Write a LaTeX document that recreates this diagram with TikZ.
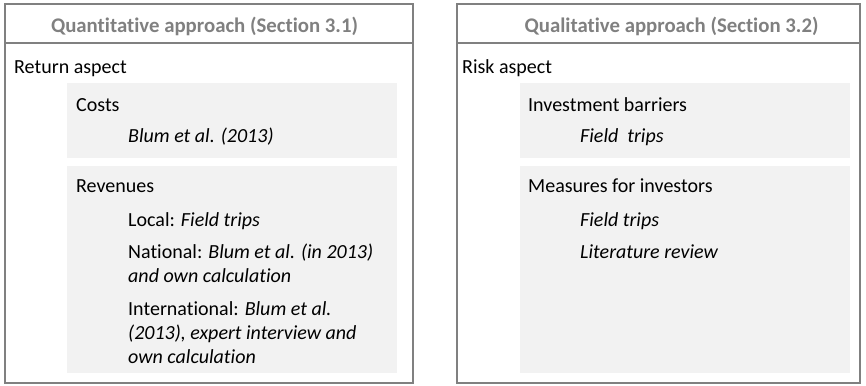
\documentclass[tikz,border=0pt]{standalone}
\usepackage{fontspec}
\setmainfont{Carlito}[Ligatures=NoCommon]
\definecolor{frame}{HTML}{808080}
\definecolor{panel}{HTML}{F2F2F2}
\tikzset{
  x=1pt,y=-1pt,
  outer/.style={draw=frame,line width=1.6pt},
  panelbox/.style={fill=panel,draw=none},
  head/.style={font=\fontsize{20.8}{24}\selectfont\bfseries,text=frame,inner sep=0pt,anchor=base},
  txt/.style={font=\fontsize{20}{24}\selectfont,inner sep=0pt,anchor=base west,align=left},
}
\begin{document}
\begin{tikzpicture}
\useasboundingbox (0,0) rectangle (866,385);
% left frame
\draw[outer] (5,4) rectangle (413,383);
\draw[outer] (5,43) -- (413,43);
\fill[panelbox] (67,83) rectangle (397,158);
\fill[panelbox] (67,166) rectangle (397,373);
\node[head] (h1) at (204.5,32.3) {Quantitative approach (Section 3.1)};
\node[txt] (ret) at (14,74) {Return aspect};
\node[txt] (costs) at (76,111.7) {Costs};
\node[txt] (blum) at (128,142.5) {\itshape Blum et al. (2013)};
\node[txt] (rev) at (76,192.7) {Revenues};
\node[txt] (loc) at (128,226.7) {Local: \textit{Field trips}};
\node[txt] (nat) at (128,282.5) {National: \textit{Blum et al. (in 2013)}\\\textit{and own calculation}};
\node[txt] (int) at (128,363.3) {International: \textit{Blum et al.}\\\textit{(2013), expert interview and}\\\textit{own calculation}};
% right frame
\draw[outer] (457,4) rectangle (860,383);
\draw[outer] (457,43) -- (860,43);
\fill[panelbox] (520,83) rectangle (850,158);
\fill[panelbox] (520,166) rectangle (850,373);
\node[head] (h2) at (671.5,32.3) {Qualitative approach (Section 3.2)};
\node[txt] (risk) at (462,74) {Risk aspect};
\node[txt] (inv) at (528,111.7) {Investment barriers};
\node[txt] (ft1) at (580,142.5) {\itshape Field\ \ trips};
\node[txt] (meas) at (528,192.7) {Measures for investors};
\node[txt] (ft2) at (580,226.7) {\itshape Field trips};
\node[txt] (lit) at (580,258.3) {\itshape Literature review};
\end{tikzpicture}
\end{document}
